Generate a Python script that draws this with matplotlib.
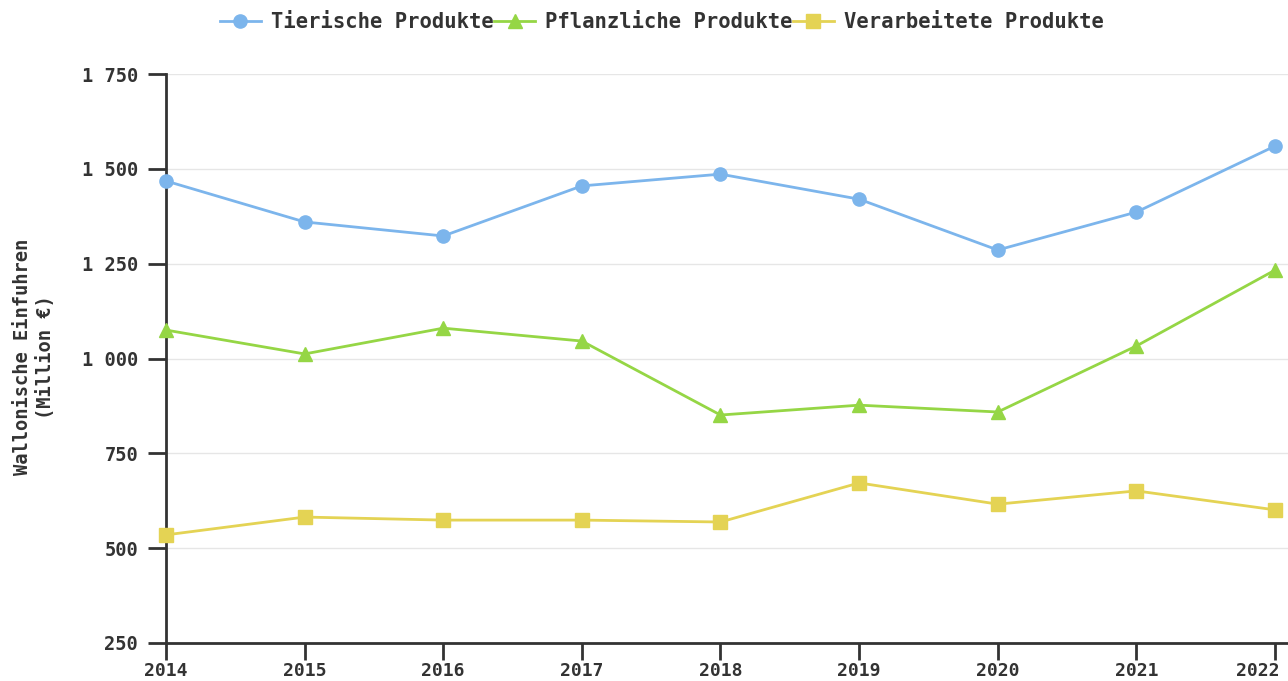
import matplotlib.pyplot as plt
import matplotlib.transforms as mtransforms
from matplotlib.ticker import FuncFormatter

years = [2014, 2015, 2016, 2017, 2018, 2019, 2020, 2021, 2022]
tierische = [1468, 1360, 1323, 1455, 1486, 1420, 1286, 1386, 1560]
pflanzliche = [1075, 1012, 1080, 1046, 851, 877, 859, 1033, 1233]
verarbeitete = [535, 582, 574, 574, 569, 672, 616, 651, 601]

series_names = ['Tierische Produkte', 'Pflanzliche Produkte', 'Verarbeitete Produkte']
colors = ['#7cb5ec', '#95d645', '#e4d354']
markers = ['o', '^', 's']

plt.rcParams['font.family'] = ['DejaVu Sans Mono']
plt.rcParams['font.weight'] = 'bold'

fig = plt.figure(figsize=(12.88, 6.81), dpi=100)
ax = fig.add_axes([166 / 1288, 38 / 681, (1288 - 166) / 1288, (643 - 74) / 681])

for vals, name, c, m in zip([tierische, pflanzliche, verarbeitete], series_names, colors, markers):
    ax.plot(years, vals, color=c, marker=m, markersize=9.5 if m != '^' else 10, linewidth=2,
            label=name, clip_on=False, zorder=3)

ax.set_ylim(250, 1750)
ax.set_xlim(2014, 2022 + 13 / 138.6)
ax.set_yticks([250, 500, 750, 1000, 1250, 1500, 1750])
ax.yaxis.set_major_formatter(FuncFormatter(lambda v, p: f'{int(v):,}'.replace(',', ' ')))
ax.set_xticks(years)
ax.grid(axis='y', color='#e6e6e6', linewidth=1)
ax.set_axisbelow(True)
for s in ['top', 'right']:
    ax.spines[s].set_visible(False)
for s in ['left', 'bottom']:
    ax.spines[s].set_color('#333333')
    ax.spines[s].set_linewidth(2)
ax.tick_params(axis='y', length=13, width=2, color='#333333', labelsize=13.5, labelcolor='#333333', pad=7)
ax.tick_params(axis='x', length=12, width=2, color='#333333', labelsize=13, labelcolor='#333333', pad=2)
for lab in ax.get_xticklabels() + ax.get_yticklabels():
    lab.set_fontweight('bold')

# last x label is pushed left so it fits, like the original
last = ax.get_xticklabels()[-1]
last.set_transform(last.get_transform() + mtransforms.ScaledTranslation(-17 / 100, 0, fig.dpi_scale_trans))

fig.text(34 / 1288, 1 - 357 / 681, 'Wallonische Einfuhren\n(Million €)', rotation=90, ha='center', va='center',
         fontsize=13.5, fontweight='bold', color='#333333', linespacing=1.3)

ax.legend(loc='center', bbox_to_anchor=(662 / 1288, 1 - 22 / 681), bbox_transform=fig.transFigure,
          ncol=3, frameon=False, columnspacing=0.0, handlelength=2.0, handletextpad=0.5,
          prop={'weight': 'bold', 'size': 14.8})
for t in ax.get_legend().get_texts():
    t.set_color('#333333')

fig.savefig('out.png', dpi=100)
